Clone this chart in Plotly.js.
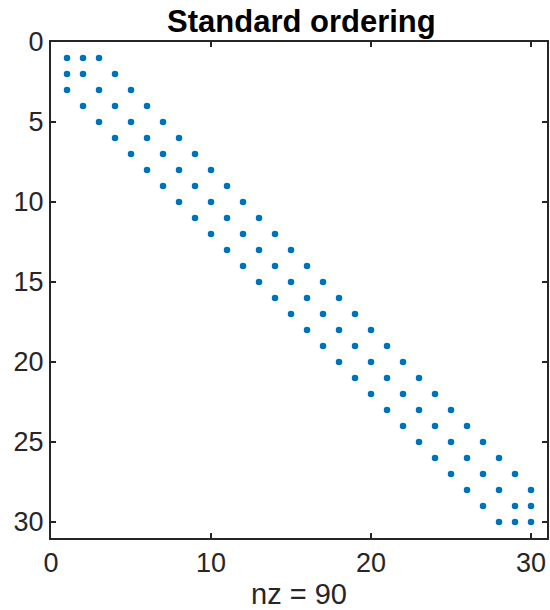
<!DOCTYPE html>
<html>
<head>
<meta charset="utf-8">
<script src="https://cdn.plot.ly/plotly-3.0.1.min.js"></script>
<style>html,body{margin:0;padding:0;background:#fff;}#chart{width:550px;height:610px;}</style>
</head>
<body>
<div id="chart"></div>
<script>
// Nonzero entries of the 30x30 matrix (column index, row index)
const colIdx = [1,1,1, 2,2,2, 3,3,3, 4,4,4, 5,5,5, 6,6,6, 7,7,7, 8,8,8, 9,9,9, 10,10,10,
  11,11,11, 12,12,12, 13,13,13, 14,14,14, 15,15,15, 16,16,16, 17,17,17, 18,18,18, 19,19,19, 20,20,20,
  21,21,21, 22,22,22, 23,23,23, 24,24,24, 25,25,25, 26,26,26, 27,27,27, 28,28,28, 29,29,29, 30,30,30];
const rowIdx = [1,2,3, 1,2,4, 1,3,5, 2,4,6, 3,5,7, 4,6,8, 5,7,9, 6,8,10, 7,9,11, 8,10,12,
  9,11,13, 10,12,14, 11,13,15, 12,14,16, 13,15,17, 14,16,18, 15,17,19, 16,18,20, 17,19,21, 18,20,22,
  19,21,23, 20,22,24, 21,23,25, 22,24,26, 23,25,27, 24,26,28, 25,27,29, 26,28,30, 27,29,30, 28,29,30];
const xTicks = [0, 10, 20, 30];
const yTicks = [0, 5, 10, 15, 20, 25, 30];
const titleText = 'Standard ordering';
const xLabel = 'nz = 90';

const font = '"Liberation Sans", Arial, Helvetica, sans-serif';
const axisColor = '#262626';

Plotly.newPlot('chart', [{
  x: colIdx, y: rowIdx, type: 'scatter', mode: 'markers',
  marker: {color: '#0072BD', size: 6.5},
  hoverinfo: 'none'
}], {
  width: 550, height: 610,
  margin: {l: 51, r: 3, t: 42, b: 72, pad: 0},
  paper_bgcolor: '#fff', plot_bgcolor: '#fff',
  showlegend: false,
  font: {family: font, color: axisColor, size: 27},
  title: {text: '<b>' + titleText + '</b>', font: {family: font, size: 31, color: '#000'},
          x: 0.548, xanchor: 'center', y: 0.965, yanchor: 'middle'},
  xaxis: {
    range: [0, 31], tickvals: xTicks, ticktext: xTicks.map(String),
    showgrid: false, zeroline: false, showline: true, mirror: 'ticks',
    linecolor: axisColor, linewidth: 2, ticks: 'inside', ticklen: 5, tickwidth: 2, tickcolor: axisColor,
    tickfont: {size: 27, color: axisColor}, fixedrange: true, automargin: false,
    title: {text: xLabel, font: {size: 29, color: axisColor}, standoff: 6}
  },
  yaxis: {
    range: [31, 0], tickvals: yTicks, ticktext: yTicks.map(String),
    showgrid: false, zeroline: false, showline: true, mirror: 'ticks',
    linecolor: axisColor, linewidth: 2, ticks: 'inside', ticklen: 5, tickwidth: 2, tickcolor: axisColor,
    tickfont: {size: 27, color: axisColor}, fixedrange: true, automargin: false
  }
}, {staticPlot: true});
</script>
</body>
</html>
